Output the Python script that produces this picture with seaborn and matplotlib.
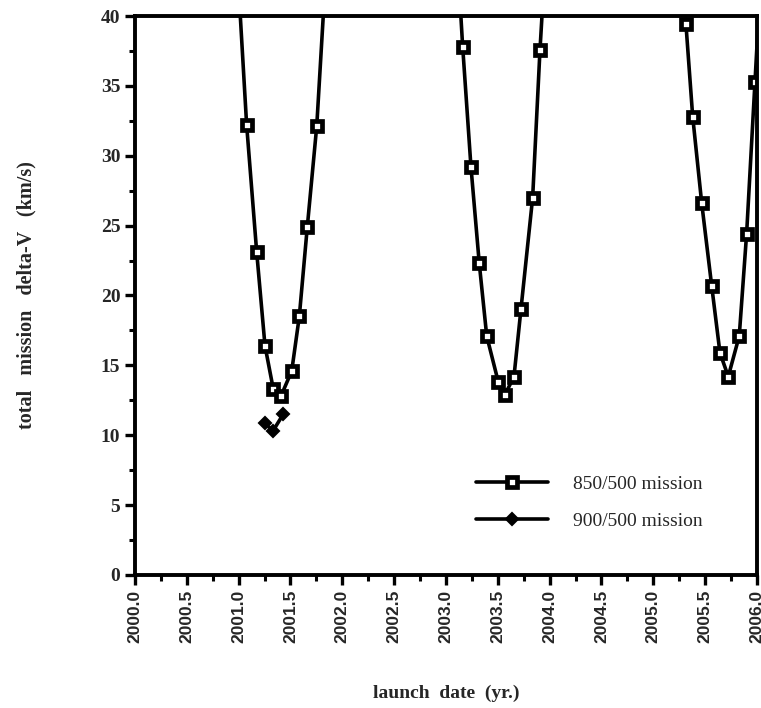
import numpy as np
import pandas as pd
import matplotlib
matplotlib.use("Agg")
import matplotlib.pyplot as plt
from matplotlib.ticker import MultipleLocator, FormatStrFormatter
import seaborn as sns

# 850/500 mission: three launch windows (points outside 0-40 continue the curves off-scale)
date_850 = [2001.00, 2001.077, 2001.174, 2001.254, 2001.334, 2001.408, 2001.512,
            2001.585, 2001.662, 2001.753, 2001.84,
            2003.08, 2003.161, 2003.241, 2003.321, 2003.393, 2003.505, 2003.569,
            2003.656, 2003.723, 2003.836, 2003.907, 2003.99,
            2005.23, 2005.315, 2005.380, 2005.467, 2005.563, 2005.643, 2005.723,
            2005.829, 2005.900, 2005.981, 2006.06]
dv_850 = [42.0, 32.2, 23.1, 16.4, 13.3, 12.8, 14.6,
          18.5, 24.9, 32.1, 43.0,
          48.0, 37.8, 29.2, 22.3, 17.1, 13.8, 12.9,
          14.2, 19.0, 27.0, 37.6, 48.0,
          50.0, 39.4, 32.8, 26.6, 20.7, 15.9, 14.2,
          17.1, 24.4, 35.3, 46.0]

# 900/500 mission
date_900 = [2001.25, 2001.33, 2001.43]
dv_900 = [10.9, 10.3, 11.5]

x_ticks = np.arange(2000.0, 2006.01, 0.5)
y_ticks = np.arange(0, 41, 5)

df = pd.concat([
    pd.DataFrame({"date": date_850, "dv": dv_850, "mission": "850/500 mission"}),
    pd.DataFrame({"date": date_900, "dv": dv_900, "mission": "900/500 mission"}),
])

sns.set_style("ticks")
plt.rcParams["font.family"] = ["Liberation Serif", "DejaVu Serif"]

fig = plt.figure(figsize=(7.61, 7.08), dpi=100)
ax = fig.add_axes([0.1774, 0.1879, 0.8173, 0.7895])

sns.lineplot(data=df[df.mission == "850/500 mission"], x="date", y="dv",
             sort=False, estimator=None, color="black", lw=2.6,
             marker="s", markersize=7.5, markerfacecolor="white",
             markeredgecolor="black", markeredgewidth=3.4,
             label="850/500 mission", ax=ax)
sns.lineplot(data=df[df.mission == "900/500 mission"], x="date", y="dv",
             sort=False, estimator=None, color="black", lw=2.6,
             marker="D", markersize=6.5, markerfacecolor="black",
             markeredgecolor="black", markeredgewidth=1.5,
             label="900/500 mission", ax=ax)

ax.set_xlim(2000.0, 2006.0)
ax.set_ylim(0, 40)
ax.set_xticks(x_ticks)
ax.set_yticks(y_ticks)
ax.xaxis.set_minor_locator(MultipleLocator(0.25))
ax.yaxis.set_minor_locator(MultipleLocator(2.5))
ax.xaxis.set_major_formatter(FormatStrFormatter("%.1f"))

for s in ax.spines.values():
    s.set_linewidth(2.8)
    s.set_color("black")
ax.tick_params(which="major", direction="out", length=7, width=2.4, color="black")
ax.tick_params(which="minor", direction="out", length=4, width=2.2, color="black")

for lab in ax.get_xticklabels():
    lab.set_rotation(90)
    lab.set_fontfamily(["Liberation Sans", "DejaVu Sans"])
    lab.set_fontweight("bold")
    lab.set_fontsize(12.5)
for lab in ax.get_yticklabels():
    lab.set_fontweight("bold")
    lab.set_fontsize(14)

ax.set_xlabel("launch  date  (yr.)", fontsize=14, fontweight="bold", labelpad=30)
ax.set_ylabel("total   mission   delta-V   (km/s)", fontsize=14.5,
              fontweight="bold", labelpad=46)

ax.legend(loc="upper left", bbox_to_anchor=(0.52, 0.21), frameon=False,
          fontsize=14, handlelength=3.7, handletextpad=1.3, labelspacing=1.0,
          numpoints=1)

fig.savefig("out.png", dpi=100)
